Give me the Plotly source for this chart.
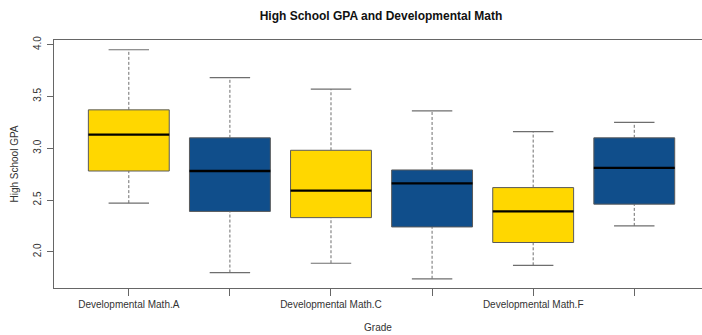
import plotly.graph_objects as go

# Summary statistics of high school GPA by developmental math grade
categories = ["Developmental Math.A", "Developmental Math.B", "Developmental Math.C",
              "Developmental Math.D", "Developmental Math.F", "Developmental Math.W"]
shown_labels = ["Developmental Math.A", "", "Developmental Math.C",
                "", "Developmental Math.F", ""]
lower_whisker = [2.47, 1.80, 1.89, 1.74, 1.87, 2.25]
q1 = [2.78, 2.39, 2.33, 2.24, 2.09, 2.46]
median = [3.13, 2.78, 2.59, 2.66, 2.39, 2.81]
q3 = [3.37, 3.10, 2.98, 2.79, 2.62, 3.10]
upper_whisker = [3.95, 3.68, 3.57, 3.36, 3.16, 3.25]
box_colors = ["#FFD700", "#104E8B", "#FFD700", "#104E8B", "#FFD700", "#104E8B"]
y_ticks = [2.0, 2.5, 3.0, 3.5, 4.0]

pos = list(range(1, len(categories) + 1))
box_w = 0.8
cap_w = 0.4

fig = go.Figure()

# whiskers (dashed)
wx, wy = [], []
for p, lo, a, b, hi in zip(pos, lower_whisker, q1, q3, upper_whisker):
    wx += [p, p, None, p, p, None]
    wy += [lo, a, None, b, hi, None]
fig.add_trace(go.Scatter(x=wx, y=wy, mode="lines", hoverinfo="skip",
                         line=dict(color="#6e6e6e", width=1, dash="3px,2px")))

# whisker caps
cx, cy = [], []
for p, lo, hi in zip(pos, lower_whisker, upper_whisker):
    cx += [p - cap_w / 2, p + cap_w / 2, None, p - cap_w / 2, p + cap_w / 2, None]
    cy += [lo, lo, None, hi, hi, None]
fig.add_trace(go.Scatter(x=cx, y=cy, mode="lines", hoverinfo="skip",
                         line=dict(color="#6e6e6e", width=1.2)))

# boxes
fig.add_trace(go.Bar(x=pos, base=q1, y=[b - a for a, b in zip(q1, q3)],
                     width=box_w, marker=dict(color=box_colors,
                                              line=dict(color="#5a5a5a", width=1)),
                     customdata=categories, hoverinfo="skip"))

# medians
mx, my = [], []
for p, m in zip(pos, median):
    mx += [p - box_w / 2, p + box_w / 2, None]
    my += [m, m, None]
fig.add_trace(go.Scatter(x=mx, y=my, mode="lines", hoverinfo="skip",
                         line=dict(color="#000000", width=2.3)))

fig.update_layout(
    width=702, height=335,
    margin=dict(l=54, r=0, t=40, b=47),
    paper_bgcolor="white", plot_bgcolor="white",
    showlegend=False,
    font=dict(family="Liberation Sans, Arial, sans-serif", size=10, color="#333333"),
    title=dict(text="<b>High School GPA and Developmental Math</b>",
               x=381 / 702, xanchor="center", y=1 - 16 / 335, yanchor="middle",
               font=dict(size=12, color="#111111")),
    xaxis=dict(range=[0.26, 6.67], tickvals=pos, ticktext=shown_labels,
               showline=True, linecolor="#666666", linewidth=1, mirror=True,
               ticks="outside", ticklen=7, tickcolor="#666666",
               showgrid=False, zeroline=False,
               title=dict(text="Grade", standoff=14, font=dict(size=10))),
    yaxis=dict(range=[1.651, 4.044], tickvals=y_ticks,
               ticktext=["2.0", "2.5", "3.0", "3.5", "4.0"], tickangle=-90,
               showline=True, linecolor="#666666", linewidth=1,
               ticks="outside", ticklen=6, tickcolor="#666666",
               ticklabelstandoff=2,
               showgrid=False, zeroline=False,
               title=dict(text="High School GPA", standoff=11, font=dict(size=10))),
)

fig.write_html("out.html")
